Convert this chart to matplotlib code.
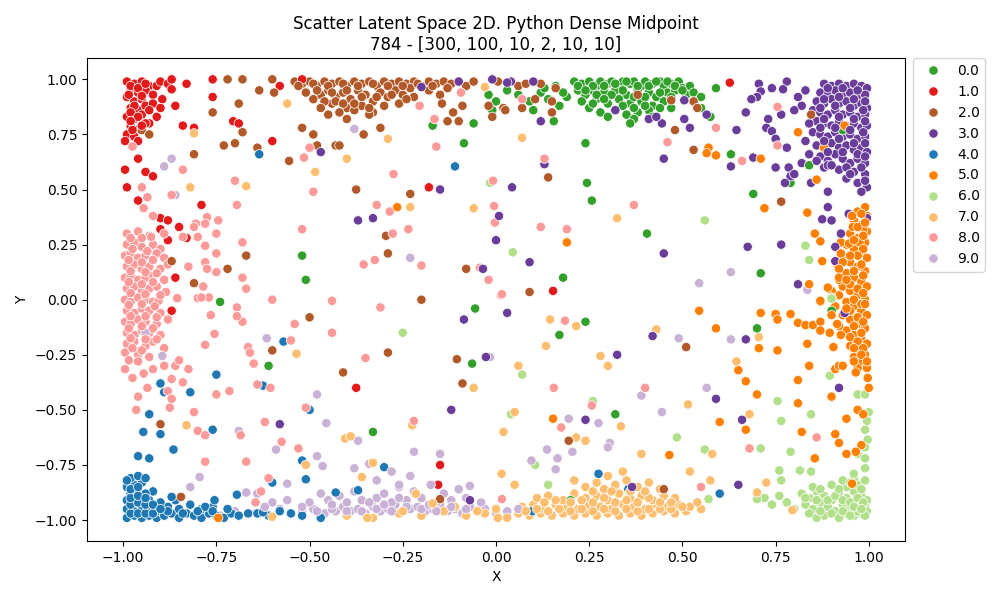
import matplotlib
matplotlib.use("Agg")
import matplotlib.pyplot as plt
import seaborn as sns
import pandas as pd

# class labels and colours (Paired palette, reordered)
labels = ["0.0", "1.0", "2.0", "3.0", "4.0", "5.0", "6.0", "7.0", "8.0", "9.0"]
colors = ["#33a02c", "#e31a1c", "#b15928", "#6a3d9a", "#1f78b4",
          "#ff7f00", "#b2df8a", "#fdbf6f", "#fb9a99", "#cab2d6"]

# points per class (x, y)
pts_0 = [(0.21,0.99),(0.23,0.98),(0.25,0.99),(0.27,0.97),(0.28,0.99),(0.30,0.98),(0.31,0.99),(0.33,0.97),(0.34,0.99),(0.36,0.98),
         (0.37,0.99),(0.39,0.97),(0.40,0.99),(0.42,0.98),(0.44,0.99),(0.45,0.97),(0.47,0.98),(0.49,0.99),(0.50,0.96),(0.52,0.97),
         (0.22,0.95),(0.24,0.93),(0.26,0.95),(0.29,0.94),(0.32,0.95),(0.35,0.93),(0.38,0.95),(0.41,0.94),(0.43,0.92),(0.46,0.94),
         (0.48,0.95),(0.51,0.93),(0.19,0.92),(0.23,0.90),(0.27,0.91),(0.30,0.89),(0.33,0.91),(0.36,0.89),(0.39,0.90),(0.42,0.88),
         (0.45,0.90),(0.47,0.87),(0.25,0.87),(0.28,0.85),(0.32,0.86),(0.35,0.84),(0.38,0.85),(0.41,0.86),(0.30,0.83),(0.37,0.82),
         (0.53,0.94),(0.55,0.92),(-0.02,0.93),(0.0,0.90),(0.03,0.95),(0.06,0.93),(0.09,0.90),(0.12,0.94),(0.14,0.91),(0.16,0.97),
         (0.18,0.94),(0.10,0.86),(0.13,0.96),(0.17,0.88),(-0.17,0.79),(-0.06,0.80),(-0.086,0.71),(-0.52,0.20),(-0.51,0.09),(-0.74,-0.01),
         (-0.01,0.86),(-0.056,-0.04),(-0.61,-0.30),(-0.33,-0.60),(-0.064,-0.29),(0.244,0.53),(0.257,0.45),(0.405,0.30),(0.18,0.10),(0.71,0.12),
         (0.69,0.48),(0.63,0.66),(0.79,0.53),(0.84,0.61),(0.93,0.77),(0.24,0.71),(0.36,0.80),(0.42,0.83),(0.59,0.96),(0.155,0.81),
         (0.24,-0.10),(0.17,-0.16),(0.32,-0.52),(0.70,-0.13),(0.90,-0.05),(0.20,-0.91),(0.55,0.87),(0.575,0.83),
         (0.22,0.97),(0.26,0.97),(0.29,0.97),(0.32,0.98),(0.35,0.99),(0.38,0.97),(0.41,0.97),(0.43,0.99),(0.46,0.99),(0.48,0.97),
         (0.24,0.95),(0.27,0.93),(0.31,0.93),(0.34,0.95),(0.37,0.92),(0.40,0.92),(0.44,0.94),(0.47,0.92),(0.50,0.95),(0.26,0.89),
         (0.29,0.91),(0.34,0.88),(0.37,0.87),(0.40,0.88),(0.44,0.87)]

pts_1 = [(-0.99,0.99),(-0.97,0.98),(-0.95,0.99),(-0.93,0.97),(-0.98,0.95),(-0.96,0.94),(-0.94,0.95),(-0.99,0.92),(-0.97,0.90),(-0.95,0.91),
         (-0.92,0.93),(-0.98,0.87),(-0.96,0.86),(-0.94,0.88),(-0.99,0.83),(-0.97,0.82),(-0.95,0.84),(-0.98,0.79),(-0.96,0.77),(-0.93,0.80),
         (-0.99,0.75),(-0.97,0.74),(-0.91,0.97),(-0.90,0.99),(-0.88,0.98),(-0.92,0.89),(-0.705,0.81),(-0.69,0.80),(-0.60,0.72),(-0.18,0.51),
         (-0.79,0.43),(-0.84,0.79),(-0.81,0.78),(-0.58,0.97),(-0.52,1.0),(-0.76,1.0),(-0.76,0.92),(-0.83,0.98),(-0.87,1.0),(-0.87,0.955),
         (-0.895,0.91),(-0.90,0.87),(-0.86,0.88),(-0.91,0.83),(-0.94,0.80),(-0.995,0.72),(-0.96,0.72),(-0.96,0.64),(-0.995,0.59),(-0.94,0.58),
         (-0.92,0.56),(-0.99,0.51),(-0.96,0.45),(-0.90,0.37),(-0.88,0.36),(-0.85,0.33),(-0.90,0.32),(-0.88,0.27),(-0.83,0.28),(-0.86,0.10),
         (-0.87,-0.05),(-0.15,-0.75),(-0.155,-0.84),(-0.375,-0.40),(0.627,0.985),(0.153,0.04),
         (-0.98,0.97),(-0.96,0.96),(-0.94,0.98),(-0.985,0.93),(-0.95,0.925),(-0.97,0.88),(-0.98,0.85),(-0.96,0.83),(-0.98,0.81),(-0.95,0.79),
         (-0.975,0.77),(-0.93,0.86)]

pts_2 = [(-0.54,0.99),(-0.52,0.98),(-0.50,0.99),(-0.48,0.97),(-0.46,0.99),(-0.44,0.98),(-0.42,0.99),(-0.40,0.97),(-0.38,0.99),(-0.36,0.98),
         (-0.34,0.99),(-0.32,0.97),(-0.30,0.99),(-0.28,0.98),(-0.26,0.99),(-0.24,0.98),(-0.22,0.99),(-0.20,0.97),(-0.18,0.99),(-0.16,0.98),
         (-0.14,0.99),(-0.12,0.98),(-0.10,0.99),(-0.08,0.97),(-0.06,0.99),(-0.51,0.94),(-0.47,0.93),(-0.45,0.95),(-0.43,0.92),(-0.41,0.94),
         (-0.39,0.91),(-0.37,0.95),(-0.35,0.93),(-0.33,0.90),(-0.31,0.94),(-0.29,0.92),(-0.27,0.95),(-0.25,0.93),(-0.23,0.96),(-0.44,0.89),
         (-0.40,0.87),(-0.36,0.88),(-0.42,0.85),(-0.38,0.86),(-0.46,0.90),(-0.49,0.91),(-0.30,0.88),(-0.26,0.89),(-0.33,0.85),(-0.40,0.82),
         (-0.45,0.84),(-0.22,0.92),(-0.18,0.95),(-0.15,0.93),(-0.13,0.96),(-0.95,0.77),(-0.93,0.75),(-0.81,0.66),(-0.73,0.70),(-0.70,0.71),
         (-0.68,0.76),(-0.64,0.69),(-0.555,0.63),(-0.76,0.85),(-0.69,0.89),(-0.72,1.0),(-0.68,1.0),(-0.635,0.95),(-0.60,1.0),(-0.595,0.94),
         (-0.52,0.78),(-0.49,0.75),(-0.48,0.70),(-0.43,0.70),(-0.42,0.70),(-0.355,0.75),(-0.31,0.78),(-0.34,0.84),(-0.375,0.50),(-0.23,0.48),
         (-0.295,0.29),(-0.29,0.21),(-0.08,0.14),(-0.20,0.0),(-0.72,0.14),(-0.67,0.20),(-0.81,0.075),(-0.87,0.175),(-0.13,0.81),(-0.10,0.81),
         (-0.115,0.85),(-0.145,0.89),(-0.09,0.88),(-0.02,0.88),(-0.01,0.83),(0.02,0.87),(-0.50,-0.08),(-0.60,-0.23),(-0.29,-0.24),(-0.41,-0.33),
         (-0.105,-0.27),(-0.09,-0.38),(-0.90,-0.565),(-0.845,-0.895),(-0.15,-0.905),(0.14,0.555),(0.09,0.035),(0.48,0.77),(0.53,0.68),(0.53,0.90),
         (0.54,0.87),(0.765,0.445),(0.845,0.84),(0.38,0.93),(0.07,0.87),(0.15,0.85),(0.15,0.90),(0.105,0.91),(0.025,0.86),(0.005,0.99),
         (0.06,0.97),(0.08,0.98),(0.12,0.98),(0.16,0.96),(0.47,0.905),(0.51,-0.215),(0.195,-0.64),(0.45,-0.86),
         (-0.53,0.97),(-0.49,0.98),(-0.45,0.97),(-0.41,0.98),(-0.37,0.97),(-0.33,0.98),(-0.29,0.97),(-0.25,0.97),(-0.21,0.98),(-0.17,0.97),
         (-0.48,0.95),(-0.44,0.94),(-0.40,0.95),(-0.36,0.92),(-0.32,0.92),(-0.28,0.93),(-0.24,0.91),(-0.43,0.90),(-0.38,0.89),(-0.34,0.87),
         (-0.41,0.89),(-0.47,0.87)]

pts_3 = [(0.88,0.98),(0.90,0.97),(0.92,0.98),(0.94,0.97),(0.96,0.98),(0.98,0.97),(0.995,0.96),(0.87,0.94),(0.89,0.93),(0.91,0.95),
         (0.93,0.93),(0.95,0.94),(0.97,0.92),(0.99,0.93),(0.86,0.90),(0.88,0.89),(0.90,0.91),(0.92,0.89),(0.94,0.90),(0.96,0.88),
         (0.98,0.89),(0.995,0.87),(0.85,0.86),(0.87,0.85),(0.89,0.84),(0.91,0.86),(0.93,0.84),(0.95,0.85),(0.97,0.83),(0.99,0.84),
         (0.86,0.81),(0.88,0.80),(0.90,0.79),(0.92,0.81),(0.94,0.79),(0.96,0.80),(0.98,0.78),(0.995,0.79),(0.85,0.76),(0.87,0.75),
         (0.89,0.74),(0.91,0.76),(0.93,0.74),(0.95,0.75),(0.97,0.73),(0.99,0.74),(0.86,0.70),(0.88,0.69),(0.90,0.71),(0.92,0.69),
         (0.94,0.70),(0.96,0.68),(0.98,0.69),(0.995,0.67),(0.87,0.65),(0.89,0.63),(0.91,0.66),(0.93,0.64),(0.95,0.62),(0.97,0.64),
         (0.99,0.62),(0.88,0.60),(0.92,0.59),(0.96,0.58),(0.99,0.57),(0.94,0.55),(0.97,0.53),(0.995,0.51),(0.98,0.49),(0.83,0.95),
         (0.82,0.88),(0.84,0.80),(0.83,0.72),(0.84,0.66),(0.82,0.62),(0.78,0.99),(0.705,0.98),(0.74,0.96),(0.77,0.955),(0.71,0.945),
         (0.70,0.92),(0.685,0.91),(0.81,0.92),(0.80,0.86),(0.67,0.85),(0.765,0.84),(0.73,0.82),(0.725,0.78),(0.74,0.765),(0.645,0.77),
         (0.75,0.73),(0.78,0.69),(0.69,0.645),(0.63,0.605),(0.75,0.60),(0.785,0.60),(0.79,0.56),(0.80,0.57),(0.775,0.53),(0.845,0.53),
         (0.89,0.49),(0.89,0.42),(0.875,0.365),(0.90,0.36),(0.946,0.39),(0.995,0.37),(0.925,0.30),(0.91,0.24),(0.91,0.175),(0.765,0.25),
         (0.675,0.24),(0.81,0.07),(0.505,0.905),(0.505,0.82),(0.52,0.78),(0.565,0.84),(0.445,0.80),(0.41,0.82),(0.43,0.83),(0.45,0.64),
         (0.12,0.81),(0.13,0.615),(0.043,0.51),(0.008,0.38),(0.0,0.27),(0.09,0.17),(0.45,0.21),(0.32,0.86),(0.04,0.99),(0.10,0.99),
         (-0.01,1.0),(-0.47,0.67),(-0.37,0.36),(-0.33,0.37),(-0.15,0.50),(-0.035,0.14),(-0.10,0.99),(0.03,0.985),(-0.20,0.965),(-0.086,-0.09),
         (-0.027,-0.26),(0.03,-0.06),(-0.12,-0.50),(-0.58,-0.565),(-0.07,-0.91),(0.325,-0.25),(0.42,-0.165),(0.67,-0.18),(0.59,-0.45),(0.66,-0.545),
         (0.24,-0.545),(0.92,-0.40),(0.65,-0.84),(0.365,-0.85),(0.935,-0.06),(0.89,0.61),(0.86,0.63),
         (0.89,0.96),(0.93,0.96),(0.97,0.95),(0.88,0.91),(0.92,0.92),(0.96,0.91),(0.99,0.90),(0.87,0.87),(0.91,0.88),(0.95,0.87),
         (0.985,0.86),(0.88,0.82),(0.92,0.83),(0.96,0.82),(0.99,0.81),(0.87,0.78),(0.91,0.78),(0.95,0.77),(0.985,0.76),(0.88,0.72),
         (0.92,0.73),(0.96,0.71),(0.99,0.71),(0.89,0.67),(0.93,0.67),(0.97,0.66),(0.99,0.65),(0.90,0.61),(0.94,0.60),(0.98,0.60),
         (0.95,0.57),(0.99,0.54)]

pts_4 = [(-0.99,-0.99),(-0.97,-0.98),(-0.95,-0.99),(-0.93,-0.98),(-0.91,-0.99),(-0.99,-0.95),(-0.97,-0.96),(-0.95,-0.94),(-0.93,-0.95),(-0.91,-0.96),
         (-0.99,-0.91),(-0.97,-0.92),(-0.95,-0.90),(-0.93,-0.91),(-0.98,-0.88),(-0.96,-0.87),(-0.94,-0.88),(-0.99,-0.85),(-0.97,-0.84),(-0.95,-0.83),
         (-0.98,-0.81),(-0.96,-0.80),(-0.94,-0.81),(-0.89,-0.98),(-0.87,-0.97),(-0.85,-0.99),(-0.83,-0.97),(-0.81,-0.98),(-0.79,-0.99),(-0.77,-0.97),
         (-0.75,-0.98),(-0.73,-0.99),(-0.71,-0.97),(-0.69,-0.98),(-0.88,-0.94),(-0.85,-0.95),(-0.82,-0.93),(-0.79,-0.95),(-0.76,-0.94),(-0.72,-0.95),
         (-0.90,-0.92),(-0.86,-0.91),(-0.64,-0.97),(-0.61,-0.98),(-0.58,-0.96),(-0.55,-0.97),(-0.52,-0.98),(-0.57,-0.19),(-0.75,-0.34),(-0.90,-0.38),
         (-0.89,-0.42),(-0.82,-0.42),(-0.625,-0.39),(-0.50,-0.50),(-0.93,-0.52),(-0.946,-0.60),(-0.90,-0.61),(-0.76,-0.59),(-0.865,-0.68),(-0.96,-0.71),
         (-0.93,-0.72),(-0.52,-0.73),(-0.60,-0.83),(-0.51,-0.815),(-0.30,-0.76),(-0.37,-0.865),(-0.43,-0.875),(-0.695,-0.885),(-0.755,-0.91),(-0.78,-0.94),
         (-0.87,-0.895),(-0.92,-0.87),(-0.94,-0.88),(-0.47,-0.99),(-0.625,-0.965),(-0.665,-0.97),(-0.635,0.66),(-0.11,0.605),(0.275,-0.79),(0.60,-0.88),
         (0.355,-0.86),(0.097,-0.96),
         (-0.98,-0.97),(-0.96,-0.97),(-0.94,-0.97),(-0.92,-0.97),(-0.98,-0.93),(-0.96,-0.92),(-0.94,-0.93),(-0.92,-0.93),(-0.98,-0.90),(-0.96,-0.89),
         (-0.94,-0.90),(-0.98,-0.86),(-0.96,-0.85),(-0.99,-0.82),(-0.88,-0.96),(-0.84,-0.97),(-0.80,-0.96),(-0.76,-0.96),(-0.90,-0.95)]

pts_5 = [(0.99,0.42),(0.97,0.40),(0.995,0.38),(0.96,0.36),(0.98,0.34),(0.995,0.31),(0.95,0.30),(0.97,0.28),(0.99,0.26),(0.94,0.25),
         (0.96,0.23),(0.98,0.21),(0.995,0.19),(0.93,0.19),(0.95,0.17),(0.97,0.15),(0.99,0.13),(0.94,0.12),(0.96,0.10),(0.98,0.08),
         (0.995,0.06),(0.93,0.06),(0.95,0.04),(0.97,0.02),(0.99,0.00),(0.94,-0.01),(0.96,-0.03),(0.98,-0.05),(0.995,-0.07),(0.93,-0.07),
         (0.95,-0.09),(0.97,-0.11),(0.99,-0.13),(0.94,-0.14),(0.96,-0.16),(0.98,-0.18),(0.995,-0.20),(0.95,-0.21),(0.97,-0.23),(0.99,-0.25),
         (0.96,-0.26),(0.98,-0.28),(0.995,-0.31),(0.97,-0.31),(0.92,0.02),(0.91,-0.03),(0.92,0.09),(0.915,0.16),(0.92,-0.12),(0.925,0.26),
         (0.90,0.04),(0.545,-0.05),(0.59,-0.13),(0.71,-0.06),(0.75,-0.065),(0.755,-0.09),(0.79,-0.065),(0.81,-0.105),(0.83,-0.115),(0.85,-0.115),
         (0.87,-0.10),(0.87,-0.14),(0.87,-0.01),(0.835,-0.20),(0.755,-0.23),(0.705,-0.22),(0.65,-0.32),(0.67,-0.37),(0.70,-0.43),(0.81,-0.365),
         (0.81,-0.47),(0.84,-0.30),(0.90,-0.44),(0.91,-0.315),(0.92,-0.30),(0.93,-0.30),(0.96,-0.28),(0.965,-0.33),(0.997,-0.355),(1.0,-0.40),
         (0.97,-0.50),(0.985,-0.52),(0.94,-0.54),(0.82,-0.60),(0.91,-0.61),(0.92,-0.65),(0.98,-0.66),(0.965,-0.69),(0.94,-0.70),(0.855,-0.72),
         (0.67,-0.59),(0.60,-0.555),(0.465,-0.705),(0.153,-0.54),(0.905,-0.215),(0.90,-0.07),(0.895,-0.15),(0.925,-0.16),(0.915,-0.11),(0.955,-0.835),
         (0.57,0.69),(0.565,0.665),(0.59,0.655),(0.71,0.64),(0.81,0.76),(0.88,0.69),(0.935,0.79),(0.86,0.545),(0.72,0.415),(0.835,0.395),
         (0.855,0.30),(0.87,0.265),(0.875,0.175),(0.925,0.21),(0.93,0.17),(0.92,0.14),(0.92,0.10),(0.89,0.055),(0.84,0.07),(0.87,-0.005),
         (0.19,0.26),(0.955,0.38),(0.957,0.33),(0.985,0.32),(0.975,0.26),(0.947,0.255),(-0.265,0.42),(-0.745,-0.99),
         (0.98,0.39),(0.97,0.33),(0.985,0.29),(0.96,0.27),(0.985,0.23),(0.97,0.20),(0.95,0.20),(0.98,0.16),(0.96,0.13),(0.985,0.11),
         (0.95,0.07),(0.97,0.05),(0.985,0.03),(0.96,0.00),(0.98,-0.02),(0.95,-0.05),(0.97,-0.08),(0.985,-0.10),(0.96,-0.12),(0.98,-0.15),
         (0.95,-0.17),(0.97,-0.19),(0.985,-0.22),(0.96,-0.22),(0.98,-0.25),(0.995,-0.28),(0.94,0.09),(0.94,-0.04),(0.99,0.35),(0.99,-0.02)]

pts_6 = [(0.82,-0.88),(0.84,-0.90),(0.86,-0.87),(0.88,-0.89),(0.90,-0.91),(0.92,-0.88),(0.94,-0.90),(0.96,-0.87),(0.98,-0.89),(0.995,-0.91),
         (0.83,-0.93),(0.85,-0.95),(0.87,-0.92),(0.89,-0.94),(0.91,-0.96),(0.93,-0.93),(0.95,-0.95),(0.97,-0.92),(0.99,-0.94),(0.88,-0.98),
         (0.92,-0.99),(0.96,-0.98),(0.98,-0.97),(0.995,-0.96),(0.85,-0.85),(0.90,-0.84),(0.94,-0.85),(0.97,-0.84),(0.99,-0.82),(0.96,-0.81),
         (0.93,-0.82),(0.78,-0.92),(0.76,-0.89),(0.80,-0.95),(0.74,-0.93),(0.72,-0.90),(0.86,-0.99),(0.94,-0.97),(0.98,-0.93),(0.97,-0.96),
         (0.97,-0.43),(0.99,-0.43),(1.0,-0.51),(0.99,-0.59),(0.997,-0.635),(0.99,-0.67),(0.97,-0.70),(0.99,-0.765),(0.96,-0.79),(0.99,-0.72),
         (0.995,-0.55),(0.07,-0.34),(0.04,-0.52),(0.26,-0.46),(0.105,-0.75),(0.14,-0.84),(0.485,-0.625),(0.56,-0.68),(0.71,-0.675),(0.755,-0.46),
         (0.765,-0.55),(0.79,-0.69),(0.845,-0.52),(0.895,-0.345),(0.76,-0.775),(0.815,-0.775),(0.845,-0.78),(0.765,-0.82),(0.57,-0.905),(0.70,-0.905),
         (0.90,0.01),(0.56,0.36),(0.045,0.215),(0.83,0.245),(0.84,0.18),(0.90,0.005),(-0.016,0.53),(-0.25,-0.15),
         (0.83,-0.90),(0.86,-0.91),(0.89,-0.91),(0.91,-0.89),(0.93,-0.91),(0.95,-0.92),(0.97,-0.90),(0.985,-0.92),(0.84,-0.97),(0.87,-0.96),
         (0.90,-0.97),(0.93,-0.96),(0.95,-0.98),(0.99,-0.98),(0.87,-0.86),(0.92,-0.86),(0.95,-0.83),(0.98,-0.86),(0.96,-0.94),(0.98,-0.95)]

pts_7 = [(0.06,-0.97),(0.09,-0.98),(0.12,-0.97),(0.15,-0.98),(0.18,-0.97),(0.21,-0.98),(0.24,-0.97),(0.27,-0.98),(0.30,-0.97),(0.33,-0.98),
         (0.36,-0.97),(0.39,-0.98),(0.42,-0.97),(0.45,-0.96),(0.48,-0.97),(0.51,-0.96),(0.07,-0.94),(0.10,-0.93),(0.13,-0.95),(0.16,-0.93),
         (0.19,-0.94),(0.22,-0.95),(0.25,-0.93),(0.28,-0.94),(0.31,-0.95),(0.34,-0.93),(0.37,-0.94),(0.40,-0.95),(0.43,-0.93),(0.46,-0.94),
         (0.49,-0.93),(0.52,-0.94),(0.55,-0.95),(0.54,-0.92),(0.11,-0.90),(0.14,-0.89),(0.18,-0.91),(0.21,-0.88),(0.24,-0.90),(0.27,-0.89),
         (0.30,-0.91),(0.33,-0.88),(0.36,-0.90),(0.39,-0.89),(0.42,-0.91),(0.45,-0.89),(0.48,-0.90),(0.24,-0.85),(0.27,-0.83),(0.29,-0.86),
         (0.32,-0.84),(0.35,-0.82),(0.38,-0.85),(0.41,-0.83),(0.44,-0.86),(0.21,-0.82),(0.30,-0.80),(0.34,-0.78),(-0.40,-0.98),(-0.33,-0.99),
         (-0.26,-0.97),(-0.20,-0.98),(-0.14,-0.96),(-0.08,-0.98),(-0.03,-0.97),(0.0,-0.95),(0.03,-0.99),(-0.17,-0.93),(-0.11,-0.94),(-0.05,-0.96),
         (0.145,-0.09),(0.215,-0.12),(0.134,-0.21),(0.06,-0.30),(0.28,-0.255),(0.30,-0.30),(0.43,-0.135),(0.515,-0.475),(0.335,-0.575),(0.02,-0.60),
         (0.215,-0.625),(0.24,-0.64),(0.39,-0.70),(0.015,-0.79),(0.05,-0.84),(0.52,-0.78),(0.575,-0.82),(0.645,-0.28),(0.68,-0.52),(0.705,-0.17),
         (0.725,-0.83),(0.70,-0.875),(0.795,-0.955),(0.05,-0.51),(0.58,-0.70),(0.07,0.735),(0.325,0.37),(-0.56,0.89),(-0.81,0.755),(-0.29,0.73),
         (-0.40,0.64),(-0.485,0.58),(-0.82,0.51),(-0.67,0.515),(-0.23,0.42),(-0.06,0.415),(-0.03,0.965),(-0.535,-0.245),(-0.83,-0.57),(-0.405,-0.63),
         (-0.39,-0.62),(-0.225,-0.57),(-0.06,-0.40),(-0.36,-0.805),(-0.51,-0.75),(-0.33,-0.74),(-0.215,-0.88),(-0.25,-0.96),(-0.05,-0.96),(-0.345,-0.99),
         (-0.60,-0.985),(0.005,-0.99),(-0.17,-0.925),
         (0.08,-0.96),(0.11,-0.95),(0.14,-0.96),(0.17,-0.95),(0.20,-0.96),(0.23,-0.95),(0.26,-0.96),(0.29,-0.95),(0.32,-0.96),(0.35,-0.95),
         (0.38,-0.96),(0.41,-0.95),(0.44,-0.95),(0.47,-0.95),(0.50,-0.94),(0.13,-0.92),(0.16,-0.91),(0.20,-0.92),(0.23,-0.91),(0.26,-0.92),
         (0.29,-0.90),(0.32,-0.92),(0.35,-0.91),(0.38,-0.92),(0.41,-0.90),(0.44,-0.92),(0.47,-0.92),(0.26,-0.87),(0.31,-0.87),(0.36,-0.87),
         (0.40,-0.87)]

pts_8 = [(-0.99,0.30),(-0.96,0.31),(-0.93,0.29),(-0.99,0.25),(-0.97,0.26),(-0.95,0.24),(-0.92,0.25),(-0.90,0.23),(-0.995,0.20),(-0.98,0.21),
         (-0.96,0.19),(-0.94,0.20),(-0.91,0.21),(-0.89,0.19),(-0.99,0.15),(-0.97,0.16),(-0.95,0.14),(-0.93,0.15),(-0.90,0.14),(-0.88,0.16),
         (-0.995,0.10),(-0.98,0.11),(-0.96,0.09),(-0.94,0.10),(-0.92,0.11),(-0.89,0.09),(-0.99,0.05),(-0.97,0.06),(-0.95,0.04),(-0.93,0.05),
         (-0.91,0.06),(-0.995,0.0),(-0.98,-0.01),(-0.96,0.01),(-0.94,0.0),(-0.92,-0.01),(-0.99,-0.05),(-0.97,-0.06),(-0.95,-0.04),(-0.93,-0.05),
         (-0.90,-0.06),(-0.995,-0.10),(-0.98,-0.11),(-0.96,-0.09),(-0.94,-0.10),(-0.91,-0.11),(-0.88,-0.09),(-0.99,-0.15),(-0.97,-0.16),(-0.95,-0.14),
         (-0.93,-0.15),(-0.90,-0.16),(-0.99,-0.20),(-0.97,-0.19),(-0.94,-0.21),(-0.92,-0.19),(-0.89,-0.22),(-0.995,-0.24),(-0.96,-0.25),(-0.93,-0.26),
         (-0.975,0.695),(-0.84,0.59),(-0.95,0.51),(-0.935,0.465),(-0.945,0.415),(-0.87,0.475),(-0.92,0.38),(-0.775,0.375),(-0.745,0.36),(-0.78,0.345),
         (-0.805,0.345),(-0.81,0.33),(-0.89,0.30),(-0.925,0.285),(-0.84,0.285),(-0.80,0.285),(-0.75,0.30),(-0.78,0.245),(-0.75,0.21),(-0.78,0.17),
         (-0.825,0.15),(-0.775,0.14),(-0.75,0.125),(-0.68,0.26),(-0.695,0.43),(-0.70,0.54),(-0.68,0.10),(-0.67,0.05),(-0.785,0.06),(-0.80,0.007),
         (-0.77,0.01),(-0.855,0.007),(-0.905,-0.005),(-0.885,0.035),(-0.60,0.0),(-0.52,0.32),(-0.50,0.69),(-0.515,0.645),(-0.49,0.49),(-0.44,-0.005),
         (-0.32,0.43),(-0.285,0.40),(-0.277,0.30),(-0.235,0.32),(-0.325,0.18),(-0.355,0.16),(-0.20,0.155),(-0.275,0.57),(-0.31,-0.035),(-0.205,0.88),
         (-0.165,0.82),(-0.16,0.695),(-0.008,0.54),(-0.005,0.425),(-0.003,0.35),(-0.043,0.145),(-0.02,0.09),(-0.094,0.94),(0.013,0.02),(-0.44,-0.15),
         (-0.55,-0.185),(-0.54,-0.11),(-0.665,-0.215),(-0.66,-0.24),(-0.65,-0.29),(-0.64,-0.385),(-0.605,-0.40),(-0.715,-0.415),(-0.75,-0.43),(-0.81,-0.51),
         (-0.80,-0.595),(-0.78,-0.615),(-0.685,-0.615),(-0.62,-0.555),(-0.575,-0.645),(-0.53,-0.675),(-0.67,-0.735),(-0.78,-0.735),(-0.61,-0.81),(-0.63,-0.87),
         (-0.645,-0.92),(-0.51,-0.49),(-0.35,-0.265),(-0.22,-0.55),(0.016,-0.905),(-0.695,-0.035),(-0.68,-0.10),(-0.695,-0.075),(-0.79,0.01),(-0.765,-0.07),
         (-0.755,-0.155),(-0.78,-0.205),(-0.825,-0.315),(-0.84,-0.375),(-0.88,-0.415),(-0.87,-0.36),(-0.87,-0.45),(-0.875,-0.49),(-0.96,-0.44),(-0.965,-0.50),
         (-0.935,-0.40),(-0.975,-0.355),(-0.995,-0.315),(-0.945,-0.335),(-0.92,-0.315),(-0.96,-0.28),(-0.985,-0.275),(-0.89,-0.30),(-0.86,-0.30),(-0.85,-0.275),
         (0.13,0.64),(0.46,0.715),(0.59,0.78),(0.755,0.875),(0.755,0.70),(0.66,0.63),(0.37,0.43),(0.12,0.33),(0.19,0.32),(0.016,0.025),
         (0.07,0.91),(0.185,-0.095),(0.155,-0.40),(0.40,-0.40),(0.257,-0.48),(0.175,-0.58),(0.68,-0.675),(0.86,-0.625),(0.55,-0.85),
         (-0.98,0.28),(-0.95,0.28),(-0.975,0.23),(-0.935,0.22),(-0.985,0.18),(-0.95,0.17),(-0.92,0.18),(-0.98,0.13),(-0.94,0.125),(-0.91,0.12),
         (-0.985,0.08),(-0.95,0.07),(-0.92,0.08),(-0.98,0.03),(-0.94,0.025),(-0.90,0.02),(-0.985,-0.025),(-0.95,-0.02),(-0.915,-0.03),(-0.98,-0.075),
         (-0.94,-0.075),(-0.91,-0.08),(-0.985,-0.13),(-0.95,-0.12),(-0.92,-0.13),(-0.98,-0.175),(-0.94,-0.18),(-0.91,-0.18),(-0.975,-0.22),(-0.95,-0.23)]

pts_9 = [(-0.78,-0.97),(-0.74,-0.98),(-0.70,-0.96),(-0.66,-0.97),(-0.62,-0.96),(-0.58,-0.95),(-0.55,-0.97),(-0.52,-0.96),(-0.49,-0.95),(-0.46,-0.97),
         (-0.43,-0.96),(-0.41,-0.94),(-0.39,-0.96),(-0.37,-0.95),(-0.35,-0.97),(-0.33,-0.94),(-0.31,-0.96),(-0.29,-0.95),(-0.27,-0.93),(-0.25,-0.96),
         (-0.23,-0.95),(-0.21,-0.94),(-0.19,-0.96),(-0.17,-0.95),(-0.15,-0.93),(-0.13,-0.96),(-0.11,-0.95),(-0.09,-0.97),(-0.07,-0.94),(-0.05,-0.96),
         (-0.03,-0.95),(0.0,-0.97),(0.03,-0.96),(0.06,-0.95),(-0.60,-0.92),(-0.56,-0.91),(-0.50,-0.92),(-0.45,-0.91),(-0.40,-0.92),(-0.36,-0.91),
         (-0.32,-0.90),(-0.28,-0.92),(-0.24,-0.91),(-0.20,-0.90),(-0.16,-0.92),(-0.12,-0.91),(-0.08,-0.90),(-0.04,-0.92),(-0.47,-0.88),(-0.42,-0.89),
         (-0.38,-0.87),(-0.30,-0.88),(-0.22,-0.87),(-0.14,-0.88),(-0.10,-0.86),(-0.26,-0.85),(-0.87,0.64),(-0.89,0.605),(-0.86,0.475),(-0.38,0.775),
         (-0.23,0.19),(-0.94,-0.15),(-0.895,-0.255),(-0.615,-0.175),(-0.48,-0.43),(-0.455,-0.56),(-0.69,-0.595),(-0.59,-0.68),(-0.48,-0.71),(-0.465,-0.755),
         (-0.37,-0.64),(-0.22,-0.69),(-0.15,-0.70),(-0.34,-0.745),(-0.38,-0.765),(-0.28,-0.78),(-0.23,-0.80),(-0.32,-0.82),(-0.795,-0.805),(-0.82,-0.85),
         (-0.56,-0.835),(-0.26,-0.84),(-0.175,-0.84),(-0.07,-0.845),(-0.67,-0.875),(-0.64,-0.88),(0.49,-0.175),(0.63,-0.18),(0.39,-0.435),(0.445,-0.51),
         (0.565,-0.40),(0.275,-0.56),(0.195,-0.54),(0.305,-0.65),(0.30,-0.67),(0.137,-0.68),(0.165,-0.72),(0.095,-0.73),(0.16,-0.77),(0.205,-0.69),
         (-0.016,-0.26),(0.63,0.125),(0.545,0.075),(0.835,0.045),
         (-0.48,-0.96),(-0.44,-0.95),(-0.40,-0.96),(-0.36,-0.96),(-0.32,-0.95),(-0.28,-0.96),(-0.24,-0.94),(-0.20,-0.95),(-0.16,-0.96),(-0.12,-0.94),
         (-0.08,-0.95),(-0.34,-0.92),(-0.30,-0.93),(-0.26,-0.90),(-0.18,-0.93),(-0.44,-0.93),(-0.52,-0.94),(-0.62,-0.94)]

all_pts = [pts_0, pts_1, pts_2, pts_3, pts_4, pts_5, pts_6, pts_7, pts_8, pts_9]

# interleave the classes so no class sits fully on top of the others
rows = []
longest = max(len(p) for p in all_pts)
for i in range(longest):
    for lab, pts in zip(labels, all_pts):
        if i < len(pts):
            rows.append((pts[i][0], pts[i][1], lab))
df = pd.DataFrame(rows, columns=["X", "Y", "label"])

fig = plt.figure(figsize=(10, 6), dpi=100)
ax = fig.add_subplot(111)
sns.scatterplot(data=df, x="X", y="Y", hue="label", hue_order=labels,
                palette=dict(zip(labels, colors)), s=45, ax=ax)

ax.set_xlim(-1.097, 1.097)
ax.set_ylim(-1.096, 1.096)
ax.set_title("Scatter Latent Space 2D. Python Dense Midpoint\n784 - [300, 100, 10, 2, 10, 10]")
ax.legend(bbox_to_anchor=(1.01, 1), loc="upper left", borderaxespad=0)

plt.subplots_adjust(left=0.087, right=0.905, top=0.903, bottom=0.098)
plt.savefig("out.png")
